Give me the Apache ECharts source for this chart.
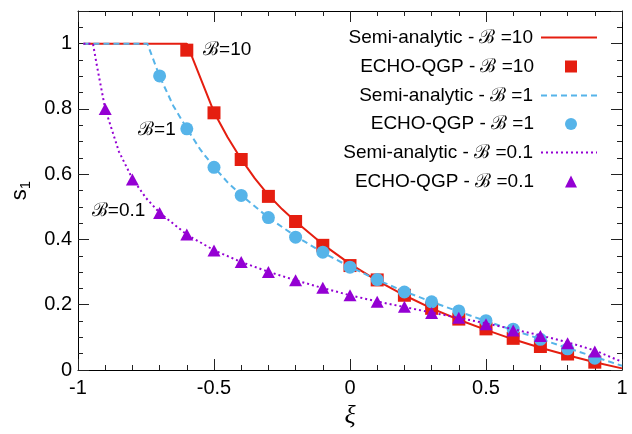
<!DOCTYPE html>
<html><head><meta charset="utf-8">
<script src="https://cdn.jsdelivr.net/npm/echarts@6/dist/echarts.min.js"></script>
<style>html,body{margin:0;padding:0;background:#fff}#c{width:632px;height:434px}</style>
</head><body><div id="c"></div>
<script>
// ECHO-QGP simulation points
const echoXi10 = [-0.6,-0.5,-0.4,-0.3,-0.2,-0.1,0,0.1,0.2,0.3,0.4,0.5,0.6,0.7,0.8,0.9];
const echoS10  = [0.98,0.788,0.645,0.532,0.455,0.382,0.32,0.276,0.229,0.189,0.156,0.126,0.097,0.072,0.049,0.024];
const echoXi1  = [-0.7,-0.6,-0.5,-0.4,-0.3,-0.2,-0.1,0,0.1,0.2,0.3,0.4,0.5,0.6,0.7,0.8,0.9];
const echoS1   = [0.901,0.739,0.621,0.535,0.467,0.407,0.361,0.315,0.277,0.239,0.209,0.181,0.151,0.125,0.094,0.065,0.036];
const echoXi01 = [-0.9,-0.8,-0.7,-0.6,-0.5,-0.4,-0.3,-0.2,-0.1,0,0.1,0.2,0.3,0.4,0.5,0.6,0.7,0.8,0.9];
const echoS01  = [0.80,0.584,0.481,0.415,0.366,0.331,0.300,0.275,0.252,0.229,0.209,0.194,0.175,0.160,0.140,0.121,0.104,0.082,0.057];
// Semi-analytic curves
const semiXi10 = [-0.98,-0.6,-0.5,-0.45,-0.4,-0.35,-0.3,-0.25,-0.2,-0.1,0,0.1,0.2,0.3,0.4,0.5,0.6,0.7,0.8,0.9,1.0];
const semiS10  = [1,1,0.79,0.713,0.646,0.587,0.536,0.493,0.455,0.385,0.325,0.274,0.229,0.189,0.154,0.123,0.094,0.068,0.045,0.024,0.005];
const semiXi1  = [-0.98,-0.745,-0.7,-0.65,-0.6,-0.55,-0.5,-0.45,-0.4,-0.3,-0.2,-0.1,0,0.1,0.2,0.3,0.4,0.5,0.6,0.7,0.8,0.9,1.0];
const semiS1   = [1,1,0.9,0.81,0.74,0.675,0.622,0.575,0.536,0.467,0.41,0.36,0.316,0.276,0.241,0.209,0.179,0.150,0.122,0.095,0.067,0.04,0.013];
const semiXi01 = [-0.98,-0.945,-0.93,-0.9,-0.85,-0.8,-0.75,-0.7,-0.6,-0.5,-0.4,-0.3,-0.2,-0.1,0,0.1,0.2,0.3,0.4,0.5,0.6,0.7,0.8,0.9,1.0];
const semiS01  = [1,1,0.93,0.80,0.67,0.586,0.527,0.482,0.415,0.367,0.331,0.301,0.275,0.251,0.229,0.21,0.193,0.176,0.16,0.143,0.125,0.106,0.085,0.06,0.025];
// Names and annotations
const seriesNames = ['Semi-analytic - ℬ =10','ECHO-QGP - ℬ =10','Semi-analytic - ℬ =1','ECHO-QGP - ℬ =1','Semi-analytic - ℬ =0.1','ECHO-QGP - ℬ =0.1'];
const annoText = ['ℬ=10','ℬ=1','ℬ=0.1'];
const annoXi = [-0.54,-0.779,-0.949];
const annoS = [0.98,0.736,0.487];

const RED='#e51e10', BLUE='#56b4e9', PURPLE='#9400d3';
const SANS='Liberation Sans, Arial, sans-serif';
const zip=(a,b)=>a.map((v,i)=>[v,b[i]]);

const chart = echarts.init(document.getElementById('c'), null, {renderer:'canvas'});
const tickCommon = {inside:true,length:11,lineStyle:{color:'#222',width:1}};
const minorCommon = {show:true,length:5,lineStyle:{color:'#222',width:1}};
const lab = {fontFamily:SANS,fontSize:20,color:'#000'};
const legendRows = [37.5,66.5,95.5,124,152.5,181.5];
const legends = seriesNames.map((n,i)=>{
  const isLine = i%2===0;
  return {
    data:[isLine ? {name:n,itemStyle:{opacity:0}} : {name:n}],
    right:isLine?34:55, top:legendRows[i]-10, align:'right', orient:'vertical',
    itemWidth:isLine?56:12, itemHeight:12, padding:0, selectedMode:false,
    textStyle:{fontFamily:SANS,fontSize:19,color:'#000',lineHeight:20,padding:[0,isLine?3:26,0,0]}
  };
});
chart.setOption({
  animation:false,
  backgroundColor:'#fff',
  grid:{left:78,right:10,top:11,bottom:62,containLabel:false},
  legend:legends,
  xAxis:[{
    type:'value',min:-1,max:1,interval:0.5,position:'bottom',
    axisLine:{onZero:false,lineStyle:{color:'#000',width:1}},
    axisTick:tickCommon,minorTick:Object.assign({splitNumber:5},minorCommon),
    splitLine:{show:false},axisLabel:Object.assign({margin:8},lab),
    name:'ξ',nameLocation:'middle',nameGap:33,
    nameTextStyle:{fontFamily:'Liberation Serif, DejaVu Serif, serif',fontStyle:'italic',fontSize:26,color:'#000'}
  },{
    type:'value',min:-1,max:1,interval:0.5,position:'top',
    axisLine:{onZero:false,lineStyle:{color:'#000',width:1}},
    axisTick:tickCommon,minorTick:Object.assign({splitNumber:5},minorCommon),
    splitLine:{show:false},axisLabel:{show:false}
  }],
  yAxis:[{
    type:'value',min:0,max:1.1,interval:0.2,position:'left',
    axisLine:{onZero:false,lineStyle:{color:'#000',width:1}},
    axisTick:tickCommon,minorTick:Object.assign({splitNumber:4},minorCommon),
    splitLine:{show:false},axisLabel:Object.assign({margin:6,showMaxLabel:false},lab),
    name:'{s|s}{sub|1}',nameLocation:'middle',nameGap:44,nameRotate:90,
    nameTextStyle:{rich:{
      s:{fontFamily:SANS,fontSize:22,color:'#000'},
      sub:{fontFamily:SANS,fontSize:15,color:'#000',padding:[12,0,0,0]}
    }}
  },{
    type:'value',min:0,max:1.1,interval:0.2,position:'right',
    axisLine:{onZero:false,lineStyle:{color:'#000',width:1}},
    axisTick:tickCommon,minorTick:Object.assign({splitNumber:4},minorCommon),
    splitLine:{show:false},axisLabel:{show:false}
  }],
  series:[
    {name:seriesNames[0],type:'line',data:zip(semiXi10,semiS10),symbol:'none',lineStyle:{color:RED,width:2},itemStyle:{color:RED},z:2},
    {name:seriesNames[1],type:'scatter',data:zip(echoXi10,echoS10),symbol:'rect',symbolSize:13,itemStyle:{color:RED,opacity:1},z:3},
    {name:seriesNames[2],type:'line',data:zip(semiXi1,semiS1),symbol:'none',lineStyle:{color:BLUE,width:2,type:[6,4]},itemStyle:{color:BLUE},z:4},
    {name:seriesNames[3],type:'scatter',data:zip(echoXi1,echoS1),symbol:'circle',symbolSize:13,itemStyle:{color:BLUE,opacity:1},z:5},
    {name:seriesNames[4],type:'line',data:zip(semiXi01,semiS01),symbol:'none',lineStyle:{color:PURPLE,width:2,type:[2,3]},itemStyle:{color:PURPLE},z:6},
    {name:seriesNames[5],type:'scatter',data:zip(echoXi01,echoS01),symbol:'triangle',symbolSize:[13,12],itemStyle:{color:PURPLE,opacity:1},z:7},
    {name:'anno',type:'scatter',symbolSize:0,silent:true,z:8,itemStyle:{opacity:1},
     data:annoText.map((t,i)=>({value:[annoXi[i],annoS[i]],label:{show:true,formatter:t}})),
     label:{show:true,position:'right',distance:0,fontFamily:SANS,fontSize:19,color:'#000'}}
  ]
});
</script></body></html>
